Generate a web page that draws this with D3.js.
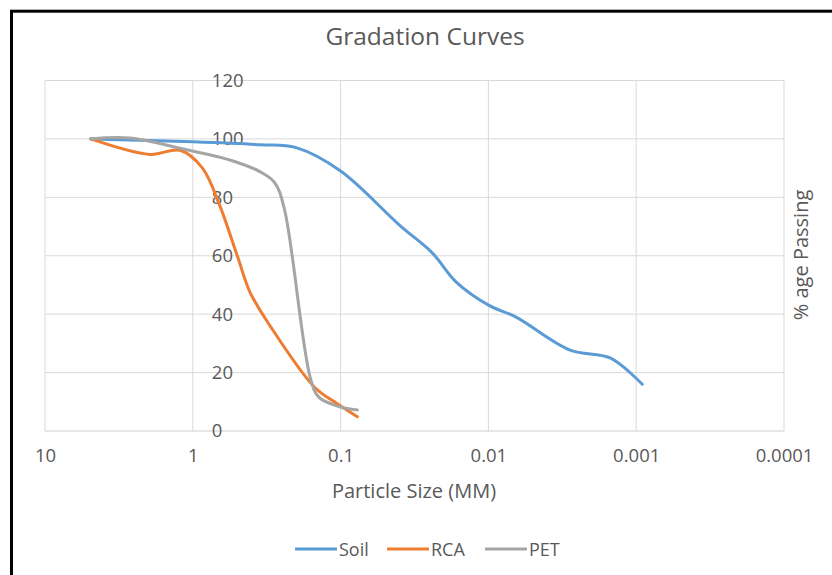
<!DOCTYPE html>
<html>
<head>
<meta charset="utf-8">
<script src="https://cdn.jsdelivr.net/npm/d3@7"></script>
<style>
  body { margin: 0; background: #fff; }
  text { font-family: "Open Sans", "Noto Sans", sans-serif; fill: #595959; }
</style>
</head>
<body>
<div id="chart-area"></div>
<script>
// Data: [particle size (mm), % passing]
var soil = [[4.9,100],[1.0,99],[0.35,98],[0.2,97],[0.1,89],[0.04,70.5],[0.024,61],
    [0.0165,51],[0.0099,43],[0.0065,39],[0.0028,27.7],[0.0015,25],[0.00091,16]];
var rca = [[4.9,100],[1.95,94.7],[1.22,96.1],[0.86,90],[0.66,77.4],[0.5,60],[0.41,47.5],
    [0.3,36],[0.15,15],[0.1065,9.5],[0.077,4.9]];
var pet = [[4.9,100],[2.67,100.3],[1.22,96.8],[0.562,92.8],[0.352,88.8],[0.279,85],[0.24,76],
    [0.16,18],[0.14,11.5],[0.1016,8.3],[0.077,7.2]];

var seriesNames = ["Soil", "RCA", "PET"];
var seriesColors = ["#5B9BD5", "#ED7D31", "#A5A5A5"];
var xTicks = [10, 1, 0.1, 0.01, 0.001, 0.0001];
var yTicks = [0, 20, 40, 60, 80, 100, 120];

var W = 832, H = 575;
var svg = d3.select("#chart-area")
    .append("svg")
    .attr("width", W)
    .attr("height", H);

// outer frame
svg.append("rect")
    .attr("x", 11.5).attr("y", 11.2)
    .attr("width", 900).attr("height", 700)
    .attr("fill", "none")
    .attr("stroke", "#000")
    .attr("stroke-width", 3);

// Scales
var x = d3.scaleLog().domain([10, 0.0001]).range([45, 784]);
var y = d3.scaleLinear().domain([0, 120]).range([431, 80.5]);

// Gridlines
svg.append("g")
    .attr("class", "grid")
    .selectAll("line.h")
    .data(yTicks)
    .enter().append("line")
    .attr("x1", x(10)).attr("x2", x(0.0001))
    .attr("y1", function(d) { return y(d); })
    .attr("y2", function(d) { return y(d); })
    .attr("stroke", function(d) { return d === 0 ? "#D0D0D0" : "#D9D9D9"; })
    .attr("stroke-width", 1);
svg.append("g")
    .attr("class", "grid")
    .selectAll("line.v")
    .data(xTicks)
    .enter().append("line")
    .attr("y1", y(0)).attr("y2", y(120))
    .attr("x1", function(d) { return x(d); })
    .attr("x2", function(d) { return x(d); })
    .attr("stroke", "#D9D9D9")
    .attr("stroke-width", 1);

// X-axis labels
var xAxisCall = d3.axisBottom(x)
    .tickValues(xTicks)
    .tickFormat(d3.format("~g"))
    .tickSize(0)
    .tickPadding(18);
var xAxis = svg.append("g")
    .attr("transform", "translate(0," + y(0) + ")")
    .call(xAxisCall);
xAxis.select(".domain").remove();
xAxis.selectAll("text").attr("font-size", "18.5px").style("fill", "#595959")
    .style("font-family", "'Open Sans', sans-serif");

// Y-axis labels (axis crosses at 1)
var yAxisCall = d3.axisRight(y)
    .tickValues(yTicks)
    .tickSize(0)
    .tickPadding(19);
var yAxis = svg.append("g")
    .attr("transform", "translate(" + x(1) + ",0)")
    .call(yAxisCall);
yAxis.select(".domain").remove();
yAxis.selectAll("text").attr("font-size", "18.5px").style("fill", "#595959")
    .style("font-family", "'Open Sans', sans-serif");

// Lines
var line = d3.line()
    .x(function(d) { return x(d[0]); })
    .y(function(d) { return y(d[1]); })
    .curve(d3.curveCatmullRom.alpha(0.5));

[soil, rca, pet].forEach(function(s, i) {
    svg.append("path")
        .datum(s)
        .attr("class", "line")
        .attr("fill", "none")
        .attr("stroke", seriesColors[i])
        .attr("stroke-width", 3)
        .attr("stroke-linejoin", "round")
        .attr("stroke-linecap", "round")
        .attr("d", line);
});

// Labels
svg.append("text")
    .attr("x", 425).attr("y", 45)
    .attr("font-size", "24.5px")
    .attr("text-anchor", "middle")
    .text("Gradation Curves");
svg.append("text")
    .attr("x", 414).attr("y", 498)
    .attr("font-size", "20px")
    .attr("text-anchor", "middle")
    .text("Particle Size (MM)");
svg.append("text")
    .attr("transform", "translate(808,255) rotate(-90)")
    .attr("font-size", "20px")
    .attr("text-anchor", "middle")
    .text("% age Passing");

// Legend
var legendX = [295, 387, 485];
var legend = svg.append("g");
seriesNames.forEach(function(name, i) {
    legend.append("line")
        .attr("x1", legendX[i]).attr("x2", legendX[i] + 42)
        .attr("y1", 549).attr("y2", 549)
        .attr("stroke", seriesColors[i])
        .attr("stroke-width", 3);
    legend.append("text")
        .attr("x", legendX[i] + 44).attr("y", 555.5)
        .attr("font-size", "18px")
        .text(name);
});
</script>
</body>
</html>
